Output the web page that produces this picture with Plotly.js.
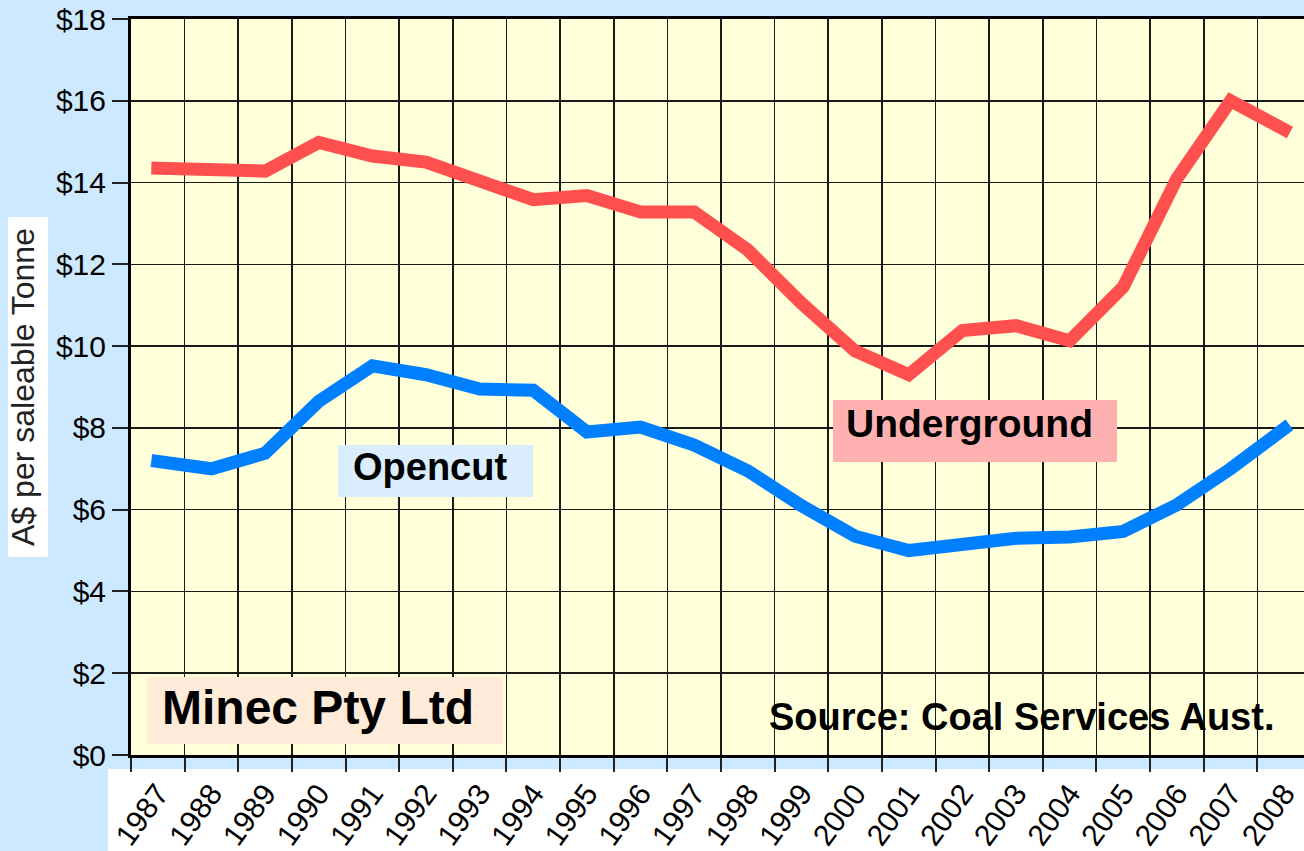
<!DOCTYPE html>
<html>
<head>
<meta charset="utf-8">
<script src="https://cdn.plot.ly/plotly-3.0.1.min.js"></script>
<style>
  html, body { margin: 0; padding: 0; overflow: hidden; background: #cce9ff; }
  #chart { width: 1320px; height: 851px; }
  .scatterlayer .js-line { stroke-linecap: square !important; stroke-linejoin: miter !important; }
</style>
</head>
<body>
<div id="chart"></div>
<script>
// ---- data ----
const years = ["1987","1988","1989","1990","1991","1992","1993","1994","1995","1996","1997",
               "1998","1999","2000","2001","2002","2003","2004","2005","2006","2007","2008"];
const underground = [14.35, 14.3, 14.28, 14.98, 14.65, 14.5, 14.0, 13.58, 13.68, 13.28, 13.28,
                     12.35, 11.05, 9.88, 9.3, 10.38, 10.5, 10.13, 11.45, 14.1, 16.0, 15.3];
const opencut = [7.18, 7.0, 7.38, 8.65, 9.52, 9.3, 8.95, 8.92, 7.9, 8.02, 7.58,
                 6.95, 6.1, 5.35, 5.0, 5.12, 5.3, 5.33, 5.47, 6.12, 7.0, 7.98];
const yTicks = [0, 2, 4, 6, 8, 10, 12, 14, 16, 18];
const yTickText = yTicks.map(v => "$" + v);

// ---- geometry helpers (pixel -> paper) ----
const FULLW = 1320, FULLH = 851;
const L = 131, R = 9, T = 19, B = 96;
const PW = FULLW - L - R, PH = FULLH - T - B;
const px = x => (x - L) / PW;
const py = y => (T + PH - y) / PH;

const rect = (x0, y0, x1, y1, color, layer) => ({
  type: "rect", xref: "paper", yref: "paper",
  x0: px(x0), x1: px(x1), y0: py(y1), y1: py(y0),
  fillcolor: color, line: { width: 0 }, layer: layer
});

const FONT = "Liberation Sans, Arial, sans-serif";

const traces = [
  { x: years, y: underground, type: "scatter", mode: "lines", name: "Underground",
    line: { color: "#ff5050", width: 13 }, hoverinfo: "x+y" },
  { x: years, y: opencut, type: "scatter", mode: "lines", name: "Opencut",
    line: { color: "#0080ff", width: 13 }, hoverinfo: "x+y" }
];

const layout = {
  width: FULLW, height: FULLH,
  margin: { l: L, r: R, t: T, b: B, pad: 0 },
  paper_bgcolor: "#cce9ff",
  plot_bgcolor: "#ffffda",
  showlegend: false,
  font: { family: FONT, color: "#000" },
  xaxis: {
    type: "category",
    tickson: "boundaries",
    range: [-0.5, 21.5],
    showgrid: true, gridcolor: "#1a1a1a", gridwidth: 1.6,
    ticks: "outside", ticklen: 14, tickwidth: 2, tickcolor: "#222",
    tickangle: -54,
    ticklabelstandoff: 6,
    tickfont: { size: 30, color: "#000", family: FONT },
    showline: true, linecolor: "#000", linewidth: 3, mirror: true,
    zeroline: false, fixedrange: true
  },
  yaxis: {
    range: [0, 18],
    tickvals: yTicks, ticktext: yTickText,
    showgrid: true, gridcolor: "#1a1a1a", gridwidth: 1.6,
    ticks: "outside", ticklen: 16, tickwidth: 2, tickcolor: "#222",
    tickfont: { size: 30, color: "#000", family: FONT },
    showline: true, linecolor: "#000", linewidth: 3, mirror: true,
    zeroline: false, fixedrange: true,
    title: { text: "A$ per saleable Tonne", standoff: 12,
             font: { size: 32, color: "#222", family: FONT } }
  },
  shapes: [
    rect(8, 217, 48, 557, "#ffffff", "below"),
    rect(108, 769, 1320, 851, "#ffffff", "below"),
    rect(833, 400, 1117, 462, "#ffb0b0", "above"),
    rect(338, 445, 533, 497, "#d9edff", "above"),
    rect(147, 677, 503, 744, "#ffebd8", "above")
  ],
  annotations: [
    { text: "<b>Underground</b>", xref: "paper", yref: "paper", x: px(970), y: py(423),
      xanchor: "center", yanchor: "middle", showarrow: false,
      font: { size: 39, color: "#000", family: FONT } },
    { text: "<b>Opencut</b>", xref: "paper", yref: "paper", x: px(430), y: py(467),
      xanchor: "center", yanchor: "middle", showarrow: false,
      font: { size: 38, color: "#000", family: FONT } },
    { text: "<b>Minec Pty Ltd</b>", xref: "paper", yref: "paper", x: px(318), y: py(707),
      xanchor: "center", yanchor: "middle", showarrow: false,
      font: { size: 48, color: "#000", family: FONT } },
    { text: "<b>Source: Coal Services Aust.</b>", xref: "paper", yref: "paper", x: px(1021), y: py(717),
      xanchor: "center", yanchor: "middle", showarrow: false,
      font: { size: 38, color: "#000", family: FONT } }
  ]
};

Plotly.newPlot("chart", traces, layout, { displayModeBar: false, staticPlot: true });
</script>
</body>
</html>
